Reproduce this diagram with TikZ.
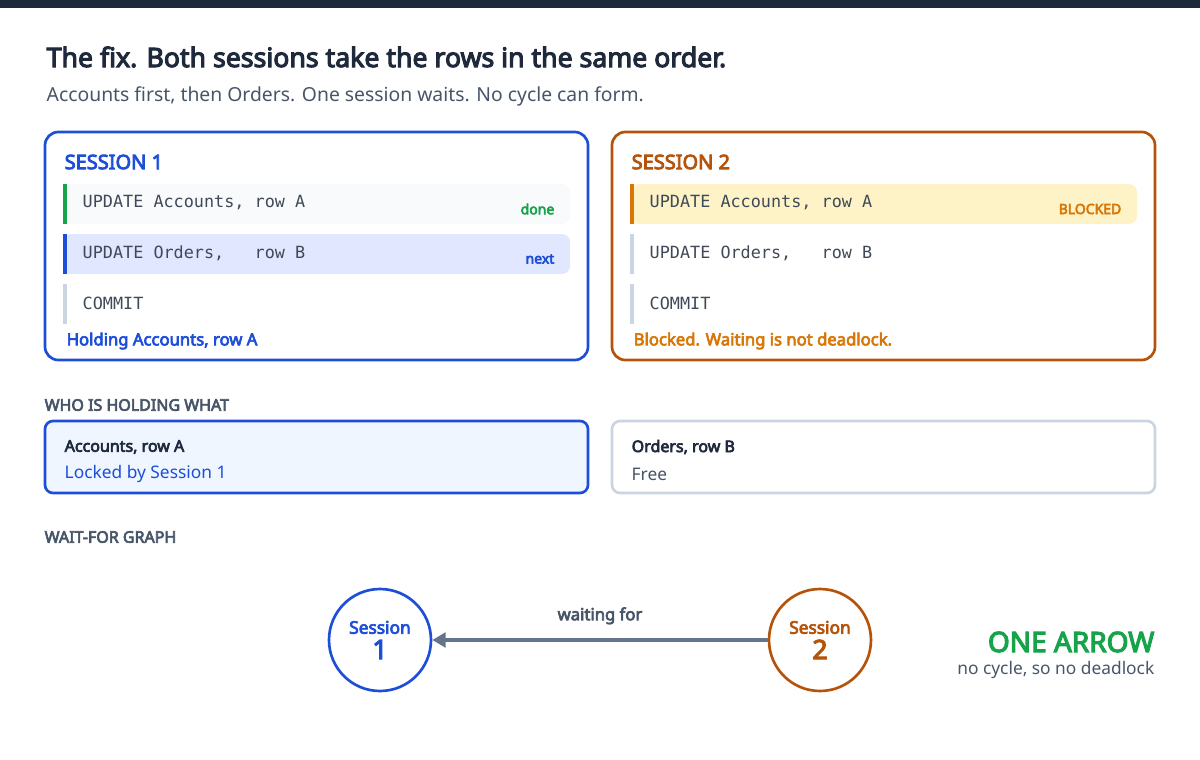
\documentclass[tikz,border=0pt]{standalone}
\usepackage{fontspec}
\setmainfont{Noto Sans}[AutoFakeBold=4]
\setmonofont{DejaVu Sans Mono}
\usetikzlibrary{positioning,arrows.meta}
\definecolor{ink}{HTML}{1E293B}
\definecolor{slate}{HTML}{475569}
\definecolor{muted}{HTML}{64748B}
\definecolor{line}{HTML}{CBD5E1}
\definecolor{sone}{HTML}{1D4ED8}
\definecolor{stwo}{HTML}{B45309}
\definecolor{amber}{HTML}{D97706}
\definecolor{ok}{HTML}{16A34A}
\definecolor{rowgray}{HTML}{F8FAFC}
\definecolor{rowblue}{HTML}{E0E7FF}
\definecolor{rowamber}{HTML}{FEF3C7}
\definecolor{paleblue}{HTML}{EFF6FF}
\begin{document}
\begin{tikzpicture}[x=0.75pt,y=-0.75pt,
  panel/.style={draw=#1,line width=2pt,rounded corners=10pt},
  row/.style={fill=#1,rounded corners=6pt},
  code/.style={anchor=west,font=\ttfamily\fontsize{12.6}{14}\selectfont,text=ink!85},
  tag/.style={anchor=east,font=\bfseries\fontsize{10.5}{12}\selectfont,text=#1},
  head/.style={anchor=west,font=\bfseries\fontsize{12}{14}\selectfont,text=slate},
  sess/.style={circle,draw=#1,line width=2pt,minimum size=102pt*0.75,align=center,text=#1,font=\bfseries\fontsize{13}{18}\selectfont}]
\useasboundingbox (0,0) rectangle (1200,760);
\fill[ink] (0,0) rectangle (1200,8);
% title
\node[anchor=west,font=\bfseries\fontsize{20}{24}\selectfont,text=ink] (title) at (42,57) {The fix. Both sessions take the rows in the same order.};
\node[anchor=west,font=\fontsize{14.5}{17}\selectfont,text=slate] (sub) at (42,96) {Accounts first, then Orders. One session waits. No cycle can form.};
% session panels
\foreach \x/\c/\n in {45/sone/1, 612/stwo/2}{
  \draw[panel=\c] (\x,132) rectangle ++(543,228);
  \node[anchor=west,font=\bfseries\fontsize{15}{18}\selectfont,text=\c] (s\n) at (\x+15,162) {SESSION \n};
}
\fill[row=rowgray] (63,184) rectangle (570,224);
\fill[row=rowblue] (63,234) rectangle (570,274);
\fill[row=rowamber] (630,184) rectangle (1137,224);
\foreach \x/\a/\b/\c in {63/ok/sone/line, 630/amber/line/line}{
  \fill[\a] (\x,184) rectangle ++(4,40);
  \fill[\b] (\x,234) rectangle ++(4,40);
  \fill[\c] (\x,284) rectangle ++(4,40);
  \node[code] at (\x+15,203) {UPDATE Accounts, row A};
  \node[code] at (\x+15,253) {UPDATE Orders,\ \ \ row B};
  \node[code] at (\x+15,303) {COMMIT};
}
\node[tag=ok] (done) at (559,209) {done};
\node[tag=sone] (next) at (559,259) {next};
\node[tag=amber] (blk) at (1126,209) {BLOCKED};
\node[anchor=west,font=\bfseries\fontsize{12.5}{15}\selectfont,text=sone] (hold) at (62,341) {Holding Accounts, row A};
\node[anchor=west,font=\bfseries\fontsize{12.5}{15}\selectfont,text=amber] (wait) at (629,341) {Blocked. Waiting is not deadlock.};
% locks
\node[head] (who) at (40,405) {WHO IS HOLDING WHAT};
\draw[fill=paleblue,draw=sone,line width=2pt,rounded corners=6pt] (45,421) rectangle (588,493);
\draw[fill=white,draw=line,line width=2pt,rounded corners=6pt] (612,421) rectangle (1155,493);
\node[anchor=west,font=\bfseries\fontsize{12}{14}\selectfont,text=ink] (la) at (60,447) {Accounts, row A};
\node[anchor=west,font=\fontsize{13}{15}\selectfont,text=sone] (lb) at (60,474) {Locked by Session 1};
\node[anchor=west,font=\bfseries\fontsize{12}{14}\selectfont,text=ink] (oa) at (627,447) {Orders, row B};
\node[anchor=west,font=\fontsize{13}{15}\selectfont,text=slate] (ob) at (627,474) {Free};
% wait-for graph
\node[head] (wfg) at (40,537) {WAIT-FOR GRAPH};
\node[sess=sone] (one) at (380,640) {Session\\[1pt]{\fontsize{20}{20}\selectfont 1}};
\node[sess=stwo] (two) at (820,640) {Session\\[1pt]{\fontsize{20}{20}\selectfont 2}};
\draw[-{Triangle[length=10pt,width=11pt]},draw=muted,line width=3pt] (two) -- (one)
  node[midway,above=7pt,font=\bfseries\fontsize{12.5}{15}\selectfont,text=slate] {waiting for};
\node[anchor=east,font=\bfseries\fontsize{21}{24}\selectfont,text=ok] (arr) at (1159,642) {ONE ARROW};
\node[anchor=east,font=\fontsize{13}{15}\selectfont,text=slate] (cyc) at (1159,670) {no cycle, so no deadlock};
\end{tikzpicture}
\end{document}
